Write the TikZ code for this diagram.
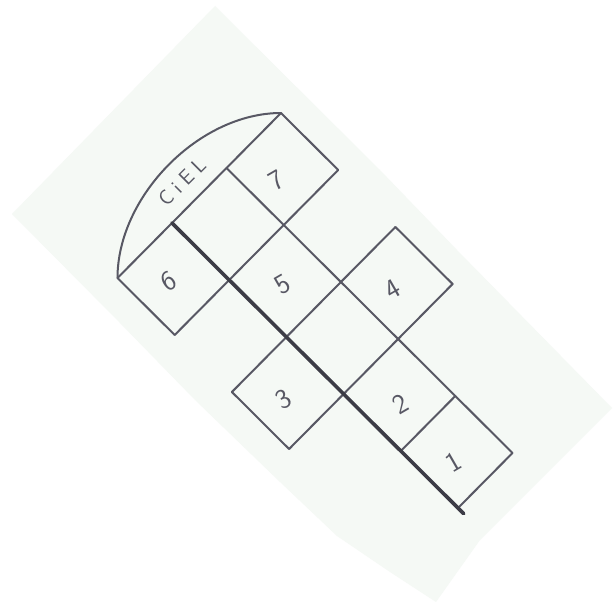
\documentclass[tikz,border=0pt]{standalone}
\usepackage{tikz}
\usetikzlibrary{calc}
\definecolor{paper}{RGB}{245,249,245}
\definecolor{pencil}{RGB}{88,88,100}
\definecolor{pencildark}{RGB}{60,60,70}

\begin{document}
\begin{tikzpicture}[x=1pt, y=-1pt,
    line/.style={pencil, line width=2pt, line cap=round, line join=round},
    mainline/.style={pencildark, line width=3.6pt, line cap=round},
    digit/.style={pencil, font=\sffamily\fontsize{28}{28}\selectfont, rotate=30, inner sep=0pt},
    sky/.style={pencil, font=\sffamily\fontsize{21}{21}\selectfont, rotate=45, inner sep=0pt}
]
\useasboundingbox (0,0) rectangle (615,602);
\fill[white] (0,0) rectangle (615,602);
% the sheet
\fill[paper] (215,6) -- (380,170) -- (457,250) -- (612,408) -- (480,540) -- (436,602)
  -- (390,572) -- (337,536) -- (280,482) -- (195,400) -- (120,323) -- (12,214) -- cycle;

% squares, x along the game, y across it
\begin{scope}[shift={(172,223)}, x={(57.2pt,-57pt)}, y={(54.5pt,55pt)}]
  \coordinate (skyL) at (0,-1);
  \coordinate (skyR) at (0,2);
  \foreach \a in {0,1,2,3}
    \draw[line] (\a,-1) -- (\a,2);
  \foreach \a in {4,5}
    \draw[line] (\a,0) -- (\a,1);
  \draw[line] (0,-1) -- (1,-1) (2,-1) -- (3,-1);
  \draw[line] (0,2) -- (1,2) (2,2) -- (3,2);
  \draw[line] (0,1) -- (5,1);
  \draw[mainline] (0,0) -- (5.1,0);
\end{scope}

\draw[line] (skyL) to[out=90, in=180, looseness=0.9] (skyR);

\node[sky] (ciel) at (182,182) {C\hspace{6pt}i\hspace{6pt}E\hspace{6pt}L};
\node[digit] (n1) at (453,462) {1};
\node[digit] (n2) at (400,404) {2};
\node[digit] (n3) at (284,399) {3};
\node[digit] (n4) at (393,289) {4};
\node[digit] (n5) at (283,284) {5};
\node[digit] (n6) at (169,281) {6};
\node[digit] (n7) at (277,180) {7};
\end{tikzpicture}
\end{document}
